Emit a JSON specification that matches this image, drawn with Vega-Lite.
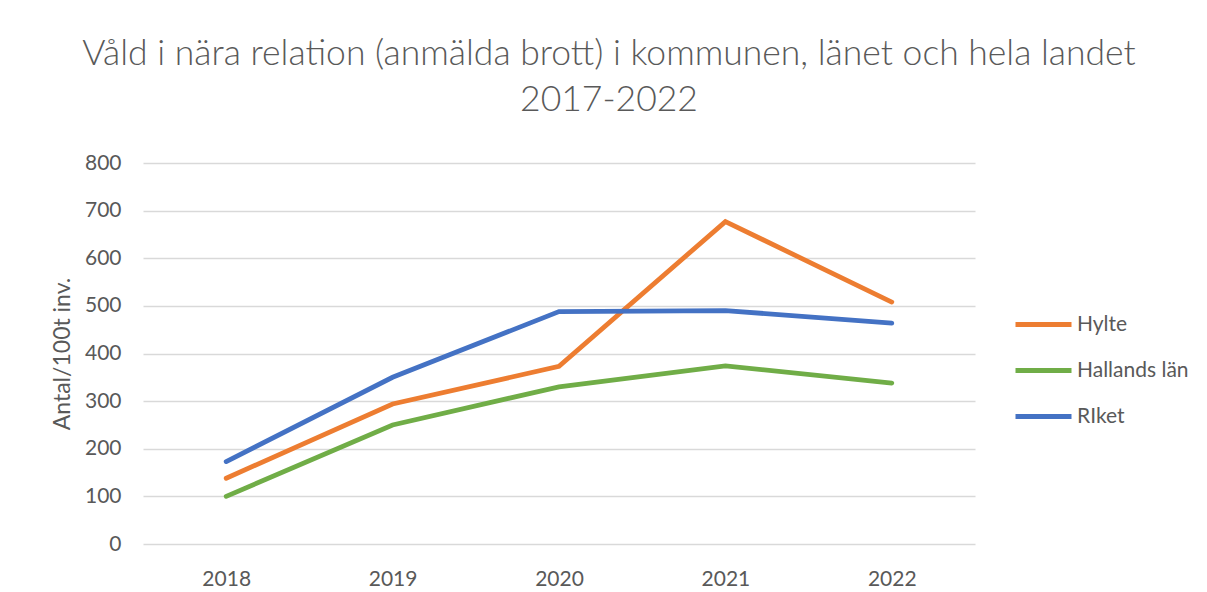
{
  "$schema": "https://vega.github.io/schema/vega-lite/v6.json",
  "autosize": {"type": "none"},
  "width": 832,
  "height": 381,
  "padding": {"left": 143, "top": 163, "right": 232, "bottom": 48},
  "background": "white",
  "title": {
    "text": ["Våld i nära relation (anmälda brott) i kommunen, länet och hela landet", "2017-2022"],
    "font": "Lato",
    "fontSize": 35.5,
    "fontWeight": 300,
    "color": "#595959",
    "anchor": "middle",
    "dx": 50,
    "lineHeight": 46,
    "offset": 34
  },
  "config": {
    "view": {"stroke": null},
    "font": "Lato",
    "axis": {"labelFont": "Lato", "titleFont": "Lato"}
  },
  "data": {
    "values": [
      {"year": "2018", "series": "Hylte", "value": 138},
      {"year": "2019", "series": "Hylte", "value": 294},
      {"year": "2020", "series": "Hylte", "value": 373},
      {"year": "2021", "series": "Hylte", "value": 677},
      {"year": "2022", "series": "Hylte", "value": 508},
      {"year": "2018", "series": "Hallands län", "value": 100},
      {"year": "2019", "series": "Hallands län", "value": 250},
      {"year": "2020", "series": "Hallands län", "value": 330},
      {"year": "2021", "series": "Hallands län", "value": 374},
      {"year": "2022", "series": "Hallands län", "value": 338},
      {"year": "2018", "series": "RIket", "value": 173},
      {"year": "2019", "series": "RIket", "value": 350},
      {"year": "2020", "series": "RIket", "value": 488},
      {"year": "2021", "series": "RIket", "value": 490},
      {"year": "2022", "series": "RIket", "value": 464}
    ]
  },
  "mark": {"type": "line", "strokeWidth": 4.8, "strokeCap": "round", "strokeJoin": "miter"},
  "encoding": {
    "x": {
      "field": "year",
      "type": "ordinal",
      "scale": {"type": "point", "padding": 0.5},
      "axis": {
        "title": null,
        "labelAngle": 0,
        "labelFontSize": 21,
        "labelColor": "#595959",
        "labelPadding": 24,
        "ticks": false,
        "domain": false,
        "grid": false
      }
    },
    "y": {
      "field": "value",
      "type": "quantitative",
      "scale": {"domain": [0, 800], "nice": false},
      "axis": {
        "title": "Antal/100t inv.",
        "titleFontSize": 23,
        "titleFontWeight": "normal",
        "titleColor": "#595959",
        "titlePadding": 10,
        "values": [0, 100, 200, 300, 400, 500, 600, 700, 800],
        "labelFontSize": 21,
        "labelColor": "#595959",
        "labelPadding": 22,
        "ticks": false,
        "domain": false,
        "gridColor": "#d9d9d9",
        "gridWidth": 1.5
      }
    },
    "color": {
      "field": "series",
      "type": "nominal",
      "sort": ["Hylte", "Hallands län", "RIket"],
      "scale": {"domain": ["Hylte", "Hallands län", "RIket"], "range": ["#ED7D31", "#70AD47", "#4472C4"]},
      "legend": {
        "title": null,
        "orient": "none",
        "legendX": 870,
        "legendY": 131,
        "symbolType": "stroke",
        "symbolSize": 3136,
        "symbolStrokeWidth": 4.8,
        "labelFontSize": 21,
        "labelColor": "#595959",
        "labelOffset": 3,
        "rowPadding": 5
      }
    }
  }
}
